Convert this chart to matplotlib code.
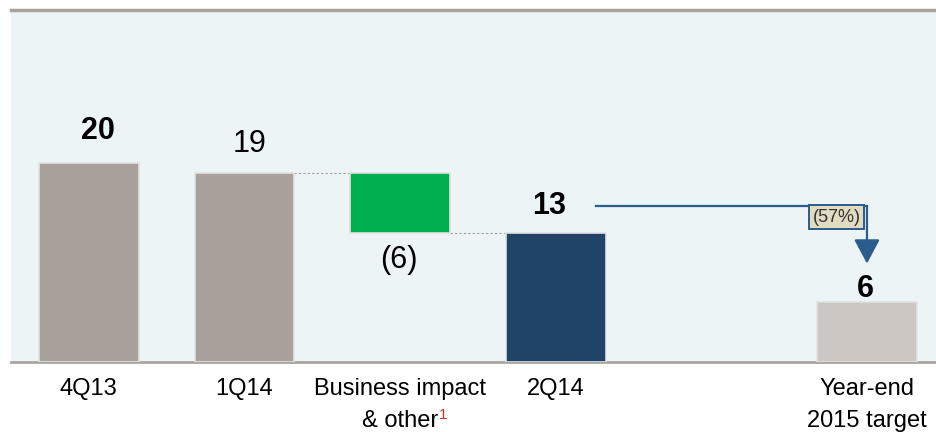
import matplotlib
matplotlib.use("Agg")
import matplotlib.pyplot as plt
from matplotlib.patches import FancyArrowPatch
from matplotlib.transforms import blended_transform_factory, offset_copy

plt.rcParams['font.family'] = ['Liberation Sans', 'DejaVu Sans']

# data
categories = ['4Q13', '1Q14', 'Business impact\n& other', '2Q14', 'Year-end\n2015 target']
positions = [0, 1, 2, 3, 5]
values = [20, 19, -6, 13, 6]
labels = ['20', '19', '(6)', '13', '6']
bold = [True, False, False, True, True]
change_label = '(57%)'
footnote = '1'

bar_colors = ['#A9A19B', '#A9A19B', '#00B050', '#1F4468', '#CCC7C3']

# waterfall geometry
bottoms = [0, 0, values[1] + values[2], 0, 0]
heights = [values[0], values[1], -values[2], values[3], values[4]]

fig = plt.figure(figsize=(9.37, 4.32), dpi=100)
ax = fig.add_axes([11 / 937, 70 / 432, 926 / 937, 350 / 432])
ax.set_facecolor('#ECF4F6')

w = 0.64
ax.bar(positions, heights, bottom=bottoms, width=w, color=bar_colors,
       edgecolor='#E2E2E2', linewidth=1.2, zorder=3)

# dotted connectors
ax.plot([positions[1] + w / 2, positions[2] - w / 2], [values[1], values[1]],
        ls=(0, (2, 2)), color='#A0A0A0', lw=0.8, zorder=2)
ax.plot([positions[2] + w / 2, positions[3] - w / 2], [bottoms[2], bottoms[2]],
        ls=(0, (2, 2)), color='#A0A0A0', lw=0.8, zorder=2)

# value labels
label_y = [values[0] + 3.25, values[1] + 2.9, bottoms[2] - 2.7, values[3] + 2.7, values[4] + 1.3]
label_x = [0.06, 0.03, -0.01, -0.04, -0.01]
for p, lab, y, b, dx in zip(positions, labels, label_y, bold, label_x):
    ax.text(p + dx, y, lab, ha='center', va='center', fontsize=22,
            fontweight='bold' if b else 'normal', color='black', zorder=4)

# arrow 2Q14 -> target
arrow_col = '#2B5D8C'
y_line = values[3] + 2.7
ax.plot([positions[3] + 0.26, positions[4]], [y_line, y_line], color=arrow_col, lw=1.6, zorder=4)
ax.add_patch(FancyArrowPatch((positions[4], y_line), (positions[4], values[4] + 3.9),
                             arrowstyle='-|>,head_length=0.75,head_width=0.4',
                             mutation_scale=20, color=arrow_col, lw=1.6, zorder=4,
                             shrinkA=0, shrinkB=0))
ax.text(positions[4] - 0.04, y_line - 0.3, change_label, ha='right', va='top', fontsize=13,
        color='#333333', zorder=5,
        bbox=dict(boxstyle='square,pad=0.2', fc='#E1DBC1', ec=arrow_col, lw=1.4))

ax.set_xlim(-0.5, 5.45)
ax.set_ylim(0, 35.2)
ax.set_yticks([])
ax.set_xticks([])
for s in ['top', 'right', 'left']:
    ax.spines[s].set_visible(False)
ax.spines['bottom'].set_color('#A9A6A2')
ax.spines['bottom'].set_linewidth(2)

# category labels, drawn line by line so the footnote can sit after "& other"
trans = blended_transform_factory(ax.transData, ax.transAxes)
fig.canvas.draw()
renderer = fig.canvas.get_renderer()
for p, cat in zip(positions, categories):
    for i, line in enumerate(cat.split('\n')):
        t = ax.text(p, 0, line, ha='center', va='center', fontsize=17, color='black',
                    transform=offset_copy(trans, fig=fig, y=-27 - 32 * i, units='dots'))
        if p == positions[2] and i == 1:
            bb = t.get_window_extent(renderer)
            fig.text((bb.x1 + 1) / fig.bbox.width, (bb.y1 + 2) / fig.bbox.height,
                     footnote, fontsize=11, color='#C0392B', ha='left', va='top')

# top rule
fig.add_artist(plt.Line2D([11 / 937, 1], [1 - 10 / 432, 1 - 10 / 432],
                          color='#A9A19B', lw=2.5))

fig.savefig('out.png', dpi=100)
